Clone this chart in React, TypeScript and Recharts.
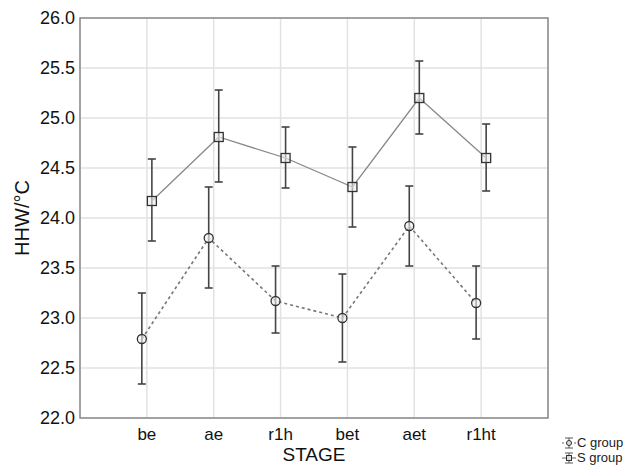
import React from 'react';
import {
  ComposedChart, Scatter, XAxis, YAxis, CartesianGrid, ErrorBar, ReferenceArea, Label,
} from 'recharts';

const categories = ['be', 'ae', 'r1h', 'bet', 'aet', 'r1ht'];
const sMean = [24.17, 24.81, 24.6, 24.31, 25.2, 24.6];
const sLow = [23.77, 24.36, 24.3, 23.91, 24.84, 24.27];
const sHigh = [24.59, 25.28, 24.91, 24.71, 25.57, 24.94];
const cMean = [22.79, 23.8, 23.17, 23.0, 23.92, 23.15];
const cLow = [22.34, 23.3, 22.85, 22.56, 23.52, 22.79];
const cHigh = [23.25, 24.31, 23.52, 23.44, 24.32, 23.52];
const yTicks = [22, 22.5, 23, 23.5, 24, 24.5, 25, 25.5, 26];
const xTicks = [1, 2, 3, 4, 5, 6];
const seriesNames = ['C group', 'S group'];

const OFFSET = 0.075;
const build = (mean: number[], low: number[], high: number[], off: number) =>
  mean.map((m, i) => ({ x: i + 1 + off, y: m, err: [m - low[i], high[i] - m] }));

const cData = build(cMean, cLow, cHigh, -OFFSET);
const sData = build(sMean, sLow, sHigh, OFFSET);

const FONT = 'Liberation Sans, Arial, sans-serif';

const SquareShape = (props: any) => {
  const { cx, cy } = props;
  return <rect x={cx - 4.5} y={cy - 4.5} width={9} height={9} fill="#eeeeee" fillOpacity={0.6} stroke="#333" strokeWidth={1.3} />;
};
const CircleShape = (props: any) => {
  const { cx, cy } = props;
  return <circle cx={cx} cy={cy} r={4.5} fill="#eeeeee" fillOpacity={0.6} stroke="#333" strokeWidth={1.3} />;
};

const LegendBox = () => (
  <div style={{ position: 'absolute', left: 561, top: 435, fontFamily: FONT, fontSize: 13, color: '#222', lineHeight: '15px' }}>
    {seriesNames.map((name, idx) => (
      <div key={name} style={{ display: 'flex', alignItems: 'center', height: 15 }}>
        <svg width={15} height={14} style={{ marginRight: 1 }}>
          <line x1={4} y1={2} x2={12} y2={2} stroke="#555" strokeWidth={1} />
          <line x1={4} y1={12} x2={12} y2={12} stroke="#555" strokeWidth={1} />
          <line x1={8} y1={2} x2={8} y2={12} stroke="#555" strokeWidth={1} />
          <line x1={1} y1={7} x2={15} y2={7} stroke="#666" strokeWidth={1} strokeDasharray={idx === 0 ? '2 2' : undefined} />
          {idx === 0 ? (
            <circle cx={8} cy={7} r={2.5} fill="#ddd" stroke="#333" strokeWidth={1} />
          ) : (
            <rect x={5.5} y={4.5} width={5} height={5} fill="#ddd" stroke="#333" strokeWidth={1} />
          )}
        </svg>
        <span>{name}</span>
      </div>
    ))}
  </div>
);

export default function App() {
  return (
    <div style={{ position: 'fixed', left: 0, top: 0, width: 630, height: 467, background: '#fff' }}>
      <ComposedChart width={630} height={467} margin={{ top: 18, right: 82, bottom: 9, left: 0 }}>
        <CartesianGrid stroke="#e2e2e2" strokeWidth={1.5} />
        <XAxis
          type="number"
          dataKey="x"
          domain={[0, 7]}
          ticks={xTicks}
          interval={0}
          tickFormatter={(v: number) => categories[v - 1]}
          axisLine={false}
          tickLine={false}
          height={40}
          tickSize={0}
          tick={{ fill: '#111', fontSize: 17, fontFamily: FONT }}
          tickMargin={10}
        >
          <Label value="STAGE" position="insideBottom" offset={-3} style={{ fill: '#111', fontSize: 19, fontFamily: FONT }} />
        </XAxis>
        <YAxis
          type="number"
          dataKey="y"
          domain={[22, 26]}
          ticks={yTicks}
          interval={0}
          tickFormatter={(v: number) => v.toFixed(1)}
          axisLine={false}
          tickLine={false}
          width={80}
          tickSize={0}
          tick={{ fill: '#111', fontSize: 18, fontFamily: FONT }}
          tickMargin={5}
        >
          <Label value="HHW/°C" angle={-90} position="insideLeft" offset={22} style={{ fill: '#111', fontSize: 20, fontFamily: FONT, textAnchor: 'middle' }} />
        </YAxis>
        <ReferenceArea x1={0} x2={7} y1={22} y2={26} fill="none" stroke="#8a8a8a" strokeWidth={1.5} ifOverflow="visible" />
        <Scatter
          name="C group"
          data={cData}
          line={{ stroke: '#777', strokeWidth: 1.6, strokeDasharray: '3 3' }}
          lineType="joint"
          shape={<CircleShape />}
          isAnimationActive={false}
        >
          <ErrorBar dataKey="err" direction="y" width={4} stroke="#444" strokeWidth={1.6} />
        </Scatter>
        <Scatter
          name="S group"
          data={sData}
          line={{ stroke: '#888', strokeWidth: 1.3 }}
          lineType="joint"
          shape={<SquareShape />}
          isAnimationActive={false}
        >
          <ErrorBar dataKey="err" direction="y" width={4} stroke="#444" strokeWidth={1.6} />
        </Scatter>
      </ComposedChart>
      <LegendBox />
    </div>
  );
}
